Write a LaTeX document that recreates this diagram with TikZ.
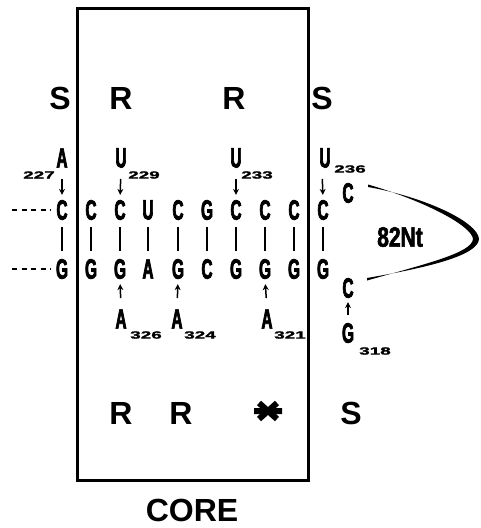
\documentclass[tikz,border=0pt]{standalone}
\usepackage{fontspec}
\setmainfont{Liberation Sans}
\newfontfamily\basefont[FakeStretch=0.55,FakeBold=2.5]{Liberation Sans Bold}
\newfontfamily\numfont[FakeStretch=1.8,FakeBold=2]{Liberation Sans Bold}
\newfontfamily\ntfont[FakeStretch=0.75,FakeBold=2]{Liberation Sans Bold}
\newfontfamily\bigfont{Liberation Sans Bold}
\usetikzlibrary{arrows.meta}
\tikzset{
  base/.style={font=\basefont\fontsize{28}{28}\selectfont, inner sep=0pt},
  num/.style={font=\numfont\fontsize{10.5}{10.5}\selectfont, inner sep=0pt},
  big/.style={font=\bigfont\fontsize{32}{32}\selectfont, inner sep=0pt},
  pairbar/.style={line width=2pt, shorten <=7pt, shorten >=8pt},
  downarr/.style={line width=1.5pt, -{Stealth[length=6pt,width=6pt]}},
  dashline/.style={line width=1.6pt, dash pattern=on 5pt off 4.5pt},
  corebox/.style={draw, line width=3pt, inner sep=0pt}
}
\begin{document}
\begin{tikzpicture}[x=1pt,y=-1pt]
\useasboundingbox (0,0) rectangle (480,528);
% core box
\node[corebox, minimum width=231pt, minimum height=472pt] (box) at (192.5,244) {};
% big letters
\node[big] (s1) at (60,98) {S};
\node[big] (r1) at (121,98) {R};
\node[big] (r2) at (234,98) {R};
\node[big] (s2) at (322,98) {S};
\node[big] (r3) at (121,413) {R};
\node[big] (r4) at (181,413) {R};
\node[big] (s3) at (351,413) {S};
\node[big] (core) at (192,510) {CORE};
% asterisk
\coordinate (ast) at (268,411);
\draw[line width=6pt] ([xshift=-14pt]ast) -- ([xshift=14pt]ast)
  ([xshift=-9pt,yshift=8pt]ast) -- ([xshift=9pt,yshift=-8pt]ast)
  ([xshift=-9pt,yshift=-8pt]ast) -- ([xshift=9pt,yshift=8pt]ast);
% base pairs
\foreach \i/\x/\t/\b in {1/62/C/G, 2/91/C/G, 3/120/C/G, 4/148/U/A, 5/178/C/G,
                         6/207/G/C, 7/236/C/G, 8/265/C/G, 9/294/C/G, 10/323/C/G} {
  \node[base] (t\i) at (\x,210) {\t};
  \node[base] (b\i) at (\x,269) {\b};
  \draw[pairbar] (t\i) -- (b\i);
}
% dashed lines
\coordinate (d1) at (12,210);
\coordinate (d2) at (12,269);
\draw[dashline, shorten >=5pt] (d1) -- (t1.west);
\draw[dashline, shorten >=5pt] (d2) -- (b1.west);
% upper labels
\node[base] (a227) at (62,158) {A};
\node[num] (n227) at (39,175) {227};
\node[base] (u229) at (121,158) {U};
\node[num] (n229) at (144,175) {229};
\node[base] (u233) at (236,158) {U};
\node[num] (n233) at (257,175) {233};
\node[base] (u236) at (325,158) {U};
\node[num] (n236) at (350,169) {236};
\draw[downarr, shorten <=11pt, shorten >=5pt] (a227.south) -- (t1.north);
\draw[downarr, shorten <=11pt, shorten >=5pt] (u229.south) -- (t3.north);
\draw[downarr, shorten <=11pt, shorten >=5pt] (u233.south) -- (t7.north);
\draw[downarr, shorten <=11pt, shorten >=5pt] ([xshift=-3pt]u236.south) -- (t10.north);
% lower labels
\node[base] (a326) at (121,319) {A};
\node[num] (n326) at (146,335) {326};
\node[base] (a324) at (177,319) {A};
\node[num] (n324) at (200,335) {324};
\node[base] (a321) at (267,319) {A};
\node[num] (n321) at (290,335) {321};
\draw[downarr, shorten <=11pt, shorten >=5pt] (a326.north) -- (b3.south);
\draw[downarr, shorten <=11pt, shorten >=5pt] (a324.north) -- (b5.south);
\draw[downarr, shorten <=11pt, shorten >=5pt] (a321.north) -- (b8.south);
% loop
\node[base] (lc1) at (348,193) {C};
\node[base] (lc2) at (348,288) {C};
\node[base] (g318) at (348,333) {G};
\node[num] (n318) at (375,351) {318};
\draw[downarr, shorten <=8pt, shorten >=4pt] (g318.north) -- (lc2.south);
\node[font=\ntfont\fontsize{28}{28}\selectfont, inner sep=0pt] (nt) at (400,237) {82Nt};
\coordinate (la) at (368,187);
\coordinate (lb) at (367,278);
\fill (la) .. controls (425,197) and (478,222) .. (479,239)
      .. controls (478,256) and (425,268) .. (lb)
      -- ([yshift=-2.5pt]lb) .. controls (425,264) and (472,253) .. (473,239)
      .. controls (472,226) and (425,201) .. ([yshift=2.5pt]la) -- cycle;
\end{tikzpicture}
\end{document}
